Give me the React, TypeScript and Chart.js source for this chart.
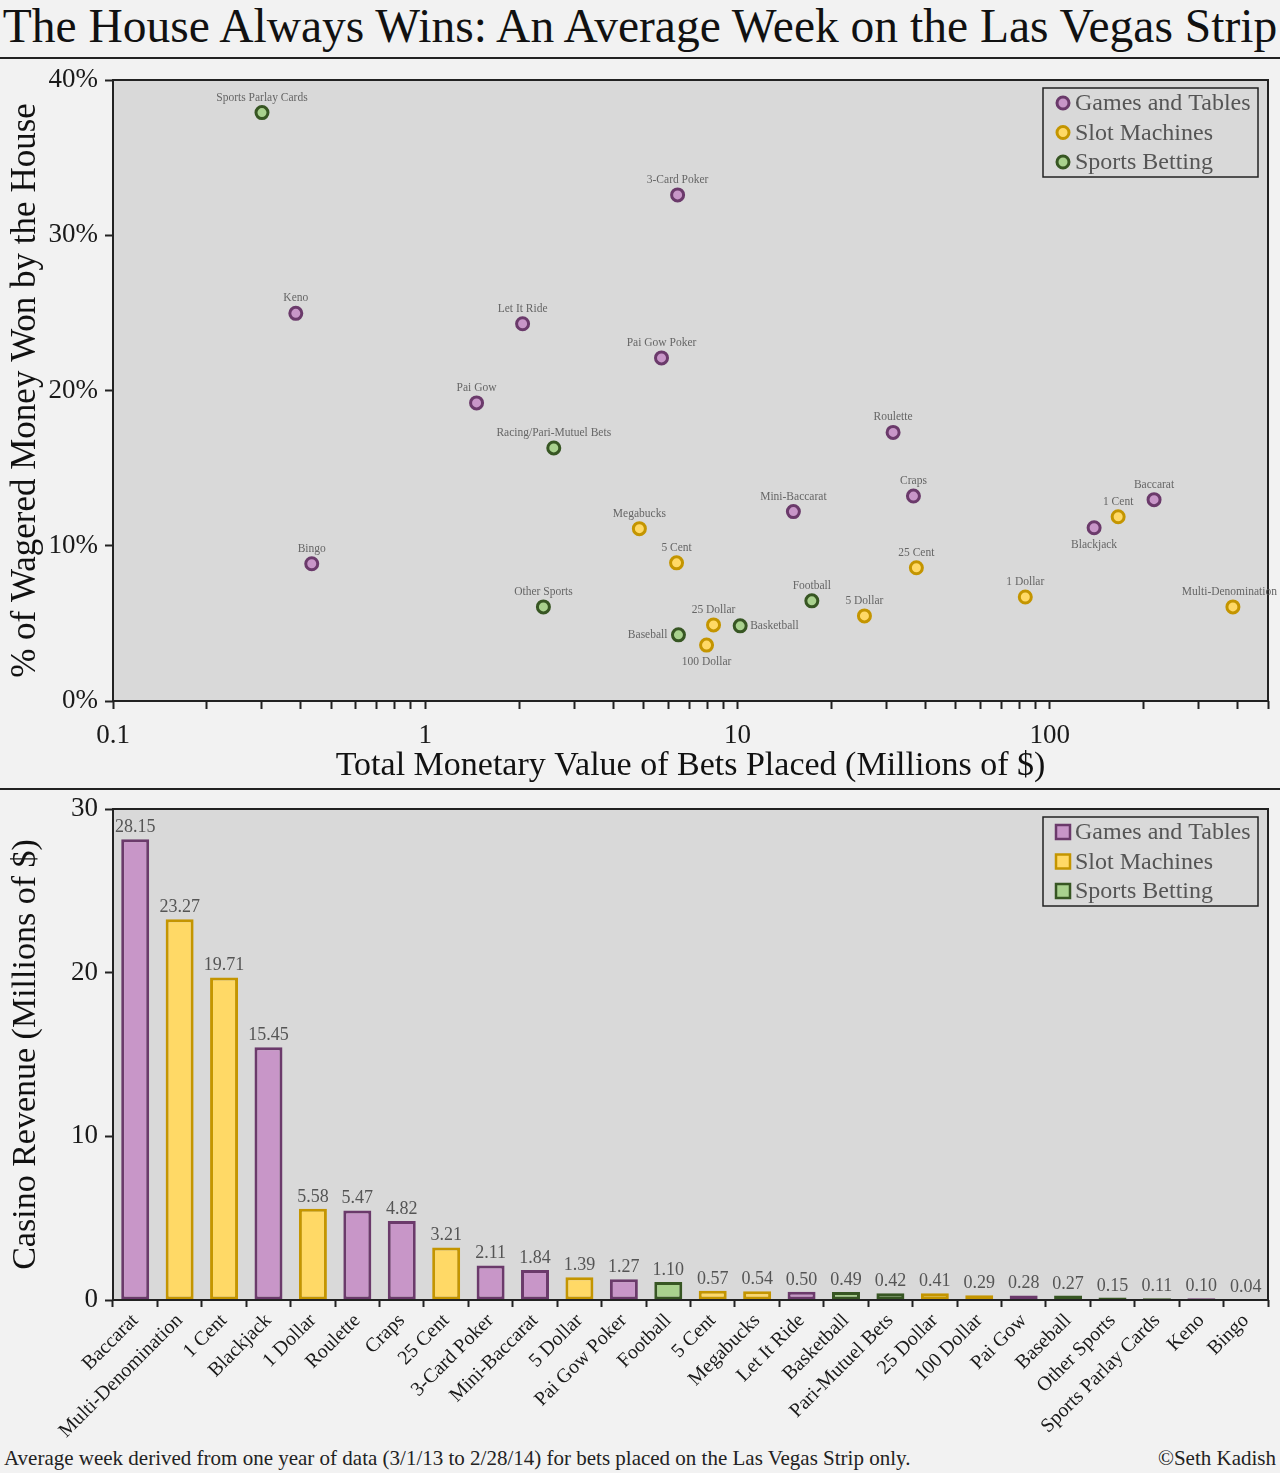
import React, { useEffect, useRef } from "react";
import { Chart, registerables } from "chart.js";

Chart.register(...registerables);

const FONT = "'Liberation Serif', 'Times New Roman', serif";

const TITLE = "The House Always Wins: An Average Week on the Las Vegas Strip";
const FOOTNOTE = "Average week derived from one year of data (3/1/13 to 2/28/14) for bets placed on the Las Vegas Strip only.";
const CREDIT = "\u00A9Seth Kadish";

const groupNames = ["Games and Tables", "Slot Machines", "Sports Betting"];
const groupFill = ["#c896c8", "#ffd966", "#a9d18e"];
const groupEdge = ["#6b3a6b", "#c49500", "#375623"];

// ---- Scatter: total wagered (millions $) vs house hold (%) ----
const gamesLabels = ["Keno", "Bingo", "Pai Gow", "Let It Ride", "Pai Gow Poker", "3-Card Poker", "Mini-Baccarat", "Roulette", "Craps", "Blackjack", "Baccarat"];
const gamesBets = [0.385, 0.433, 1.46, 2.05, 5.71, 6.43, 15.1, 31.5, 36.6, 138.7, 215.8];
const gamesHold = [24.97, 8.84, 19.2, 24.3, 22.1, 32.6, 12.2, 17.3, 13.2, 11.16, 12.97];

const slotLabels = ["Megabucks", "5 Cent", "100 Dollar", "25 Dollar", "5 Dollar", "25 Cent", "1 Dollar", "1 Cent", "Multi-Denomination"];
const slotBets = [4.85, 6.38, 7.96, 8.38, 25.5, 37.4, 83.5, 165.6, 386];
const slotHold = [11.1, 8.9, 3.6, 4.9, 5.48, 8.58, 6.7, 11.87, 6.06];

const sportsLabels = ["Sports Parlay Cards", "Other Sports", "Racing/Pari-Mutuel Bets", "Baseball", "Basketball", "Football"];
const sportsBets = [0.3, 2.39, 2.58, 6.47, 10.2, 17.3];
const sportsHold = [37.9, 6.06, 16.3, 4.26, 4.84, 6.45];

const xTickLabels = [0.1, 1, 10, 100];
const xMin = 0.1;
const xMax = 500;
const yMaxPct = 40;

// ---- Bar: casino revenue (millions $) ----
const barCategories = ["Baccarat", "Multi-Denomination", "1 Cent", "Blackjack", "1 Dollar", "Roulette", "Craps", "25 Cent", "3-Card Poker", "Mini-Baccarat", "5 Dollar", "Pai Gow Poker", "Football", "5 Cent", "Megabucks", "Let It Ride", "Basketball", "Pari-Mutuel Bets", "25 Dollar", "100 Dollar", "Pai Gow", "Baseball", "Other Sports", "Sports Parlay Cards", "Keno", "Bingo"];
const barRevenue = [28.15, 23.27, 19.71, 15.45, 5.58, 5.47, 4.82, 3.21, 2.11, 1.84, 1.39, 1.27, 1.1, 0.57, 0.54, 0.5, 0.49, 0.42, 0.41, 0.29, 0.28, 0.27, 0.15, 0.11, 0.1, 0.04];
const barGroup = [0, 1, 1, 0, 1, 0, 0, 1, 0, 0, 1, 0, 2, 1, 1, 0, 2, 2, 1, 1, 0, 2, 2, 2, 0, 0];
const barYMax = 30;

// label placement (style only)
const labelSide: Record<string, string> = {
  Blackjack: "below",
  "100 Dollar": "below",
  Baseball: "left",
  Basketball: "right",
};

const framePlugin = {
  id: "frame",
  beforeDraw(chart: any) {
    const { ctx, chartArea: a } = chart;
    ctx.save();
    ctx.fillStyle = "#d9d9d9";
    ctx.fillRect(a.left, a.top, a.right - a.left, a.bottom - a.top);
    ctx.restore();
  },
  afterDatasetsDraw(chart: any) {
    const { ctx, chartArea: a } = chart;
    ctx.save();
    ctx.strokeStyle = "#222";
    ctx.lineWidth = 2;
    ctx.strokeRect(a.left, a.top, a.right - a.left, a.bottom - a.top);
    ctx.restore();
  },
};

function makeLegendPlugin(shape: "circle" | "square") {
  return {
    id: "boxLegend",
    afterDraw(chart: any) {
      const { ctx, chartArea: a } = chart;
      const w = 215;
      const h = 89;
      const x0 = a.right - 10 - w;
      const y0 = a.top + 8;
      ctx.save();
      ctx.fillStyle = "#d9d9d9";
      ctx.fillRect(x0, y0, w, h);
      ctx.strokeStyle = "#222";
      ctx.lineWidth = 1.5;
      ctx.strokeRect(x0, y0, w, h);
      groupNames.forEach((g, i) => {
        const cy = y0 + 15 + i * 29.5;
        const cx = x0 + 20;
        ctx.fillStyle = groupFill[i];
        ctx.strokeStyle = groupEdge[i];
        if (shape === "circle") {
          ctx.lineWidth = 3;
          ctx.beginPath();
          ctx.arc(cx, cy, 6, 0, Math.PI * 2);
          ctx.fill();
          ctx.stroke();
        } else {
          ctx.lineWidth = 2.5;
          ctx.fillRect(cx - 7, cy - 7, 14, 14);
          ctx.strokeRect(cx - 7, cy - 7, 14, 14);
        }
        ctx.fillStyle = "#555";
        ctx.font = `24px ${FONT}`;
        ctx.textAlign = "left";
        ctx.textBaseline = "middle";
        ctx.fillText(g, x0 + 32, cy + 1);
      });
      ctx.restore();
    },
  };
}

const pointLabelPlugin = {
  id: "pointLabels",
  afterDatasetsDraw(chart: any) {
    const { ctx } = chart;
    ctx.save();
    ctx.font = `11.5px ${FONT}`;
    ctx.fillStyle = "#666";
    chart.data.datasets.forEach((ds: any, i: number) => {
      const meta = chart.getDatasetMeta(i);
      meta.data.forEach((el: any, j: number) => {
        const name = ds.names[j];
        const side = labelSide[name] || "above";
        const half = ctx.measureText(name).width / 2;
        let cx = el.x;
        if (cx + half > chart.width - 3) cx = chart.width - 3 - half;
        if (side === "above") {
          ctx.textAlign = "center";
          ctx.textBaseline = "alphabetic";
          ctx.fillText(name, cx, el.y - 12);
        } else if (side === "below") {
          ctx.textAlign = "center";
          ctx.textBaseline = "alphabetic";
          ctx.fillText(name, cx, el.y + 20);
        } else if (side === "left") {
          ctx.textAlign = "right";
          ctx.textBaseline = "middle";
          ctx.fillText(name, el.x - 11, el.y);
        } else {
          ctx.textAlign = "left";
          ctx.textBaseline = "middle";
          ctx.fillText(name, el.x + 10, el.y);
        }
      });
    });
    ctx.restore();
  },
};

const barValuePlugin = {
  id: "barValues",
  afterDatasetsDraw(chart: any) {
    const { ctx } = chart;
    ctx.save();
    ctx.font = `18px ${FONT}`;
    ctx.fillStyle = "#555";
    ctx.textAlign = "center";
    ctx.textBaseline = "alphabetic";
    const meta = chart.getDatasetMeta(0);
    meta.data.forEach((el: any, j: number) => {
      ctx.fillText(barRevenue[j].toFixed(2), el.x, el.y - 7);
    });
    ctx.restore();
  },
};

const noVPad = (scale: any) => {
  scale.paddingTop = 0;
  scale.paddingBottom = 0;
};

function ScatterChart() {
  const ref = useRef<HTMLCanvasElement>(null);
  useEffect(() => {
    if (!ref.current) return;
    const mk = (labels: string[], xs: number[], ys: number[], g: number) => ({
      label: groupNames[g],
      names: labels,
      data: xs.map((x, i) => ({ x, y: ys[i] })),
      backgroundColor: groupFill[g],
      borderColor: groupEdge[g],
      pointRadius: 6,
      pointHoverRadius: 6,
      pointBorderWidth: 3,
      pointHoverBorderWidth: 3,
    });
    const chart = new Chart(ref.current, {
      type: "scatter",
      data: {
        datasets: [
          mk(gamesLabels, gamesBets, gamesHold, 0),
          mk(slotLabels, slotBets, slotHold, 1),
          mk(sportsLabels, sportsBets, sportsHold, 2),
        ] as any,
      },
      options: {
        animation: false,
        responsive: false,
        devicePixelRatio: 1,
        layout: { padding: { top: 20, right: 12, left: 0, bottom: 0 } },
        plugins: { legend: { display: false }, tooltip: { enabled: false } },
        scales: {
          x: {
            type: "logarithmic",
            min: xMin,
            max: xMax,
            afterBuildTicks: (scale: any) => {
              const ticks: any[] = [];
              for (let e = -1; e <= 2; e++) {
                for (let m = 1; m <= 9; m++) {
                  const v = +(m * Math.pow(10, e)).toPrecision(6);
                  if (v <= xMax) ticks.push({ value: v, major: m === 1 });
                }
              }
              scale.ticks = ticks;
            },
            afterFit: (scale: any) => {
              scale.height = 87;
              scale.paddingLeft = 0;
              scale.paddingRight = 0;
            },
            ticks: {
              autoSkip: false,
              maxRotation: 0,
              minRotation: 0,
              padding: 11,
              color: "#1a1a1a",
              font: { family: FONT, size: 27 },
              callback: (v: any) => (xTickLabels.includes(Number(v)) ? String(v) : ""),
            },
            grid: { drawOnChartArea: false, drawTicks: true, tickLength: 8, tickColor: "#222", tickWidth: 2 },
            border: { display: false },
            title: {
              display: true,
              text: "Total Monetary Value of Bets Placed (Millions of $)",
              color: "#111",
              font: { family: FONT, size: 34 },
              padding: { top: 0, bottom: 2 },
            },
          },
          y: {
            min: 0,
            max: yMaxPct,
            afterFit: (scale: any) => {
              scale.width = 113;
              noVPad(scale);
            },
            ticks: {
              stepSize: 10,
              padding: 7,
              color: "#1a1a1a",
              font: { family: FONT, size: 27 },
              callback: (v: any) => `${v}%`,
            },
            grid: { drawOnChartArea: false, drawTicks: true, tickLength: 8, tickColor: "#222", tickWidth: 2 },
            border: { display: false },
            title: {
              display: true,
              text: "% of Wagered Money Won by the House",
              color: "#111",
              font: { family: FONT, size: 35 },
              padding: { top: 5, bottom: 0 },
            },
          },
        },
      } as any,
      plugins: [framePlugin, pointLabelPlugin, makeLegendPlugin("circle")],
    });
    return () => chart.destroy();
  }, []);
  return (
    <canvas
      ref={ref}
      width={1280}
      height={728}
      style={{ position: "absolute", left: 0, top: 60, width: 1280, height: 728 }}
    />
  );
}

function BarChart() {
  const ref = useRef<HTMLCanvasElement>(null);
  useEffect(() => {
    if (!ref.current) return;
    const chart = new Chart(ref.current, {
      type: "bar",
      data: {
        labels: barCategories,
        datasets: [
          {
            label: "Casino Revenue",
            data: barRevenue,
            backgroundColor: barGroup.map((g) => groupFill[g]),
            borderColor: barGroup.map((g) => groupEdge[g]),
            borderWidth: 3,
            borderSkipped: false,
            categoryPercentage: 1,
            barPercentage: 0.63,
          },
        ],
      },
      options: {
        animation: false,
        responsive: false,
        devicePixelRatio: 1,
        layout: { padding: { top: 19, right: 12, left: 0, bottom: 0 } },
        plugins: { legend: { display: false }, tooltip: { enabled: false } },
        scales: {
          x: {
            afterFit: (scale: any) => {
              scale.height = 145;
              scale.paddingLeft = 0;
              scale.paddingRight = 0;
            },
            ticks: {
              autoSkip: false,
              maxRotation: 45,
              minRotation: 45,
              padding: 2,
              color: "#1a1a1a",
              font: { family: FONT, size: 20 },
            },
            grid: { drawOnChartArea: false, drawTicks: true, tickLength: 7, tickColor: "#222", tickWidth: 2, offset: true },
            border: { display: false },
          },
          y: {
            min: 0,
            max: barYMax,
            afterFit: (scale: any) => {
              scale.width = 113;
              noVPad(scale);
            },
            ticks: {
              stepSize: 10,
              padding: 7,
              color: "#1a1a1a",
              font: { family: FONT, size: 27 },
            },
            grid: { drawOnChartArea: false, drawTicks: true, tickLength: 8, tickColor: "#222", tickWidth: 2 },
            border: { display: false },
            title: {
              display: true,
              text: "Casino Revenue (Millions of $)",
              color: "#111",
              font: { family: FONT, size: 34 },
              padding: { top: 6, bottom: 0 },
            },
          },
        },
      } as any,
      plugins: [framePlugin, barValuePlugin, makeLegendPlugin("square")],
    });
    return () => chart.destroy();
  }, []);
  return (
    <canvas
      ref={ref}
      width={1280}
      height={655}
      style={{ position: "absolute", left: 0, top: 790, width: 1280, height: 655 }}
    />
  );
}

export default function App() {
  useEffect(() => {
    document.body.style.margin = "0";
    document.body.style.background = "#f2f2f2";
  }, []);
  return (
    <div
      style={{
        position: "relative",
        width: 1280,
        height: 1473,
        background: "#f2f2f2",
        overflow: "hidden",
        fontFamily: FONT,
      }}
    >
      <div
        style={{
          position: "absolute",
          left: 0,
          top: 0,
          width: 1280,
          height: 54,
          display: "flex",
          alignItems: "center",
          justifyContent: "center",
          fontSize: 47.5,
          lineHeight: 1,
          color: "#111",
          whiteSpace: "nowrap",
        }}
      >
        {TITLE}
      </div>
      <div style={{ position: "absolute", left: 0, top: 57, width: 1280, height: 2, background: "#222" }} />
      <ScatterChart />
      <div style={{ position: "absolute", left: 0, top: 788, width: 1280, height: 2, background: "#222" }} />
      <BarChart />
      <div
        style={{
          position: "absolute",
          left: 4,
          top: 1445,
          fontSize: 21,
          lineHeight: "26px",
          color: "#222",
          whiteSpace: "nowrap",
        }}
      >
        {FOOTNOTE}
      </div>
      <div
        style={{
          position: "absolute",
          right: 4,
          top: 1445,
          fontSize: 21,
          lineHeight: "26px",
          color: "#222",
          whiteSpace: "nowrap",
        }}
      >
        {CREDIT}
      </div>
    </div>
  );
}
